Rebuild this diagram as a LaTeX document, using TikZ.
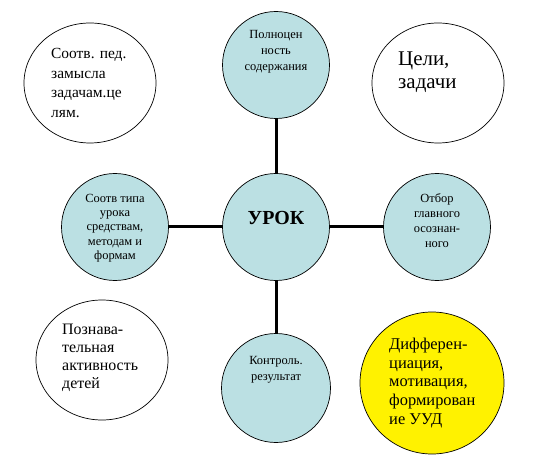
\documentclass[tikz,border=0pt]{standalone}
\usepackage{fontspec}
\setmainfont{Liberation Serif}
\usetikzlibrary{shapes.geometric}
\definecolor{lblue}{RGB}{187,224,227}
\begin{document}
\begin{tikzpicture}[x=1bp,y=-1bp,
  bluec/.style={circle,draw=black,line width=0.7bp,fill=lblue,minimum size=107bp,inner sep=0pt},
  whitec/.style={ellipse,draw=black,line width=0.7bp,fill=white,minimum width=132bp,minimum height=120bp,inner sep=0pt},
  yellowc/.style={ellipse,draw=black,line width=0.7bp,fill=yellow,minimum width=144bp,minimum height=142bp,inner sep=0pt},
  conn/.style={line width=3bp,black},
  smalltxt/.style={align=center,inner sep=0pt},
  bigtxt/.style={align=left,anchor=west,inner sep=0pt}]
\useasboundingbox[fill=white] (0,0) rectangle (552,457);
% white / yellow ellipses
\node[whitec] (tl) at (90,83) {};
\node[whitec] (tr) at (438,83) {};
\node[whitec] (bl) at (102,360) {};
\node[yellowc] (br) at (432,383) {};
% blue circles
\node[bluec] (c) at (276,227) {};
\node[bluec] (t) at (276,65) {};
\node[bluec] (l) at (115,227) {};
\node[bluec] (r) at (437,227) {};
\node[bluec,minimum size=109bp] (b) at (276,388) {};
% connectors
\draw[conn] (t) -- (c);
\draw[conn] (l) -- (c);
\draw[conn] (r) -- (c);
\draw[conn] (b) -- (c);
% texts
\node[font=\fontsize{20}{24}\selectfont\bfseries,inner sep=0pt] (ct) at (276,218) {УРОК};
\node[smalltxt,font=\fontsize{12.5}{16}\selectfont] (tt) at (276,52) {Полноцен\\ность\\содержания};
\node[smalltxt,font=\fontsize{12.5}{14.3}\selectfont] (lt) at (115,228) {Соотв типа\\урока\\средствам,\\методам и\\формам};
\node[smalltxt,font=\fontsize{12.5}{15}\selectfont] (rt) at (437,221) {Отбор\\главного\\осознан-\\ного};
\node[smalltxt,font=\fontsize{12.5}{16}\selectfont] (bt) at (276,370) {Контроль.\\результат};
\node[bigtxt,font=\fontsize{15.5}{19.5}\selectfont] (tlt) at (51,83) {Соотв. пед.\\замысла\\задачам.це\\лям.};
\node[bigtxt,font=\fontsize{21}{23}\selectfont] (trt) at (398,72) {Цели,\\задачи};
\node[bigtxt,font=\fontsize{16}{18}\selectfont] (blt) at (62,358) {Познава-\\тельная\\активность\\детей};
\node[bigtxt,font=\fontsize{16.5}{19}\selectfont] (brt) at (389,383) {Дифферен-\\циация,\\мотивация,\\формирован\\ие УУД};
\end{tikzpicture}
\end{document}
